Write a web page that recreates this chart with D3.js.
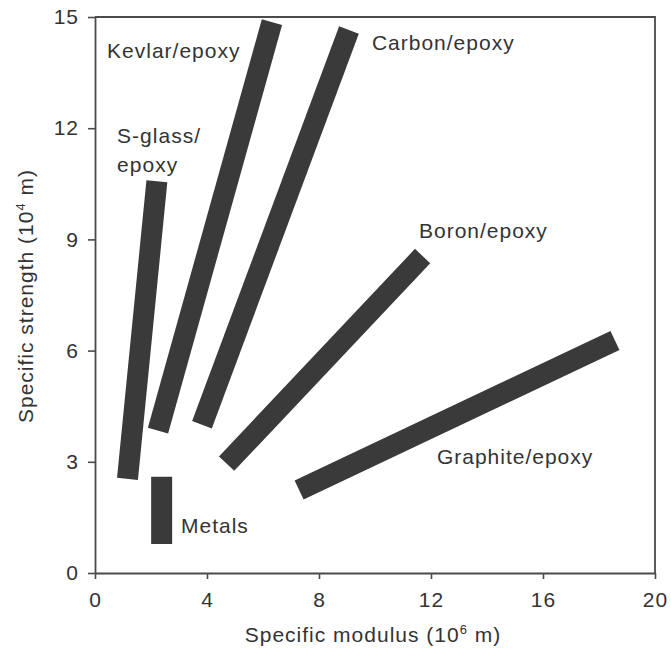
<!DOCTYPE html>
<html>
<head>
<meta charset="utf-8">
<script src="https://cdn.jsdelivr.net/npm/d3@7"></script>
<style>
  body { margin: 0; background: #fff; }
  svg { display: block; }
  text { font-family: "Liberation Sans", Arial, Helvetica, sans-serif; fill: #333; }
</style>
</head>
<body>
<svg id="chart" width="671" height="655"></svg>
<script>
// ---- data ----
const materials = ["S-glass/epoxy", "Kevlar/epoxy", "Carbon/epoxy", "Boron/epoxy", "Graphite/epoxy", "Metals"];
// band end points: specific modulus (10^6 m) and specific strength (10^4 m)
const modulusLow   = [1.16, 2.25, 3.82, 4.70, 7.29, 2.38];
const strengthLow  = [2.54, 3.84, 4.00, 2.95, 2.24, 0.78];
const modulusHigh  = [2.21, 6.32, 9.07, 11.70, 18.57, 2.38];
const strengthHigh = [10.57, 14.86, 14.65, 8.55, 6.27, 2.60];

const labelLines = [["S-glass/", "epoxy"], ["Kevlar/epoxy"], ["Carbon/epoxy"], ["Boron/epoxy"], ["Graphite/epoxy"], ["Metals"]];
// label anchor (left of text, first baseline) in data units
const labelX = [0.79, 0.43, 9.89, 11.57, 12.21, 3.07];
const labelY = [11.6, 13.9, 14.1, 9.05, 2.95, 1.08];

const xTicks = [0, 4, 8, 12, 16, 20];
const yTicks = [0, 3, 6, 9, 12, 15];
const xTitle = "Specific modulus (10";
const xSup = "6";
const yTitle = "Specific strength (10";
const ySup = "4";

// ---- layout ----
const svg = d3.select("#chart");
const x = d3.scaleLinear().domain([0, 20]).range([95, 655]);
const y = d3.scaleLinear().domain([0, 15]).range([573, 17]);
const bandW = 21;
const ink = "#3a3a3a";
const axisCol = "#4a4a4a";
const fs = 21;

// frame (top & right)
svg.append("path")
  .attr("d", `M${x(0)},${y(15)}H${x(20)}V${y(0)}`)
  .attr("fill", "none").attr("stroke", axisCol).attr("stroke-width", 1.8);

// bands
const line = d3.line().x(d => x(d[0])).y(d => y(d[1]));
materials.forEach((m, i) => {
  svg.append("path")
    .attr("d", line([[modulusLow[i], strengthLow[i]], [modulusHigh[i], strengthHigh[i]]]))
    .attr("stroke", ink)
    .attr("stroke-width", bandW)
    .attr("stroke-linecap", "butt")
    .attr("fill", "none");
});

// axes
const xAxis = d3.axisBottom(x).tickValues(xTicks).tickSize(6).tickSizeOuter(0).tickPadding(13);
const yAxis = d3.axisLeft(y).tickValues(yTicks).tickSize(7).tickSizeOuter(0).tickPadding(9);

const gx = svg.append("g").attr("transform", `translate(0,${y(0)})`).call(xAxis);
const gy = svg.append("g").attr("transform", `translate(${x(0)},0)`).call(yAxis);
[gx, gy].forEach(g => {
  g.select(".domain").attr("stroke", axisCol).attr("stroke-width", 1.8);
  g.selectAll(".tick line").attr("stroke", axisCol).attr("stroke-width", 1.6);
  g.selectAll(".tick text")
    .style("font-family", '"Liberation Sans", Arial, sans-serif')
    .attr("font-size", fs).attr("fill", "#333").attr("letter-spacing", 1);
});

// labels
materials.forEach((m, i) => {
  const t = svg.append("text")
    .attr("x", x(labelX[i])).attr("y", y(labelY[i]))
    .attr("font-size", fs).attr("letter-spacing", 1);
  labelLines[i].forEach((ln, j) => {
    t.append("tspan").attr("x", x(labelX[i])).attr("dy", j === 0 ? 0 : 29).text(ln);
  });
});

// axis titles
const xt = svg.append("text")
  .attr("x", 373).attr("y", 642)
  .attr("text-anchor", "middle")
  .attr("font-size", fs).attr("letter-spacing", 1);
xt.append("tspan").text(xTitle);
xt.append("tspan").attr("font-size", 13).attr("dy", -8).text(xSup);
xt.append("tspan").attr("dy", 8).text(" m)");

const yt = svg.append("text")
  .attr("transform", "translate(33,296) rotate(-90)")
  .attr("text-anchor", "middle")
  .attr("font-size", fs).attr("letter-spacing", 1);
yt.append("tspan").text(yTitle);
yt.append("tspan").attr("font-size", 13).attr("dy", -8).text(ySup);
yt.append("tspan").attr("dy", 8).text(" m)");
</script>
</body>
</html>
